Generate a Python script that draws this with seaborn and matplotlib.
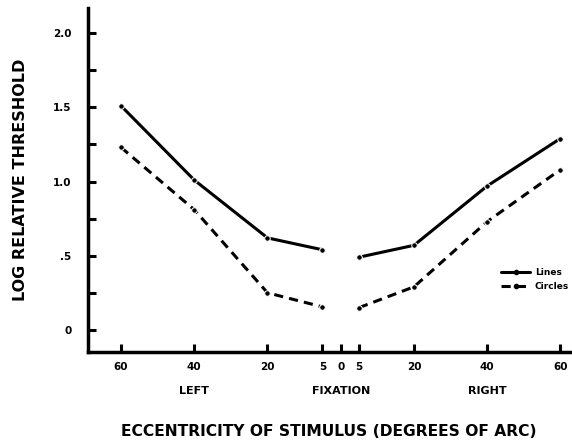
import pandas as pd
import matplotlib
matplotlib.use("Agg")
import matplotlib.pyplot as plt
import matplotlib.transforms as mtransforms
from matplotlib.lines import Line2D
import seaborn as sns

# eccentricity in degrees, left field negative
ECC = [-60, -40, -20, -5, 5, 20, 40, 60]
SIDE = ["left", "left", "left", "left", "right", "right", "right", "right"]
LINES = [1.51, 1.01, 0.62, 0.54, 0.49, 0.57, 0.97, 1.29]
CIRCLES = [1.23, 0.81, 0.25, 0.155, 0.15, 0.29, 0.73, 1.08]

X_TICKS = [-60, -40, -20, -5, 0, 5, 20, 40, 60]
X_TICKLABELS = ["60", "40", "20", "5", "0", "5", "20", "40", "60"]
Y_TICKS = [0, 0.25, 0.5, 0.75, 1.0, 1.25, 1.5, 1.75, 2.0]
Y_TICKLABELS = ["0", "", ".5", "", "1.0", "", "1.5", "", "2.0"]


def build_df():
    rows = []
    for name, vals in [("Lines", LINES), ("Circles", CIRCLES)]:
        for e, s, v in zip(ECC, SIDE, vals):
            rows.append({"ecc": e, "side": s, "threshold": v, "stimulus": name})
    return pd.DataFrame(rows)


def main():
    sns.set_style("ticks")
    plt.rcParams["font.family"] = ["DejaVu Sans"]
    plt.rcParams["font.weight"] = "bold"
    for key in ["text.color", "axes.labelcolor", "xtick.color", "ytick.color",
                "axes.edgecolor"]:
        plt.rcParams[key] = "black"

    df = build_df()

    fig = plt.figure(figsize=(5.72, 4.42), dpi=100)
    ax = fig.add_axes([0.154, 0.204, 0.843, 0.778])

    sns.lineplot(data=df, x="ecc", y="threshold", style="stimulus",
                 units="side", estimator=None, color="black",
                 dashes={"Lines": "", "Circles": (3, 2)},
                 markers={"Lines": "o", "Circles": "o"},
                 markersize=4, linewidth=2.2, legend=False, ax=ax)

    ax.set_xlim(-69, 62.7)
    ax.set_ylim(-0.148, 2.17)
    ax.set_xticks(X_TICKS)
    ax.set_xticklabels(X_TICKLABELS, fontsize=7.5, fontweight="heavy")
    ax.set_yticks(Y_TICKS)
    ax.set_yticklabels(Y_TICKLABELS, fontsize=7.5, fontweight="heavy")
    ax.tick_params(direction="in", length=6, width=2.2, pad=7)
    ax.tick_params(axis="y", pad=12)

    sns.despine(ax=ax)
    for sp in ["left", "bottom"]:
        ax.spines[sp].set_linewidth(2.5)

    ax.set_xlabel("ECCENTRICITY OF STIMULUS (DEGREES OF ARC)", fontsize=11.2,
                  fontweight="heavy", labelpad=38)
    ax.set_ylabel("LOG RELATIVE THRESHOLD", fontsize=11.5, fontweight="heavy",
                  labelpad=18)

    trans = mtransforms.blended_transform_factory(ax.transData, ax.transAxes)
    for x, lab in [(-40, "LEFT"), (0, "FIXATION"), (40, "RIGHT")]:
        ax.text(x, -0.115, lab, transform=trans, ha="center", va="center",
                fontsize=8, fontweight="heavy")

    handles = [
        Line2D([], [], color="black", linewidth=2.2, marker="o", markersize=3),
        Line2D([], [], color="black", linewidth=2.2, linestyle=(0, (3, 2)),
               marker="o", markersize=3),
    ]
    ax.legend(handles, ["Lines", "Circles"], loc="center left",
              bbox_to_anchor=(0.84, 0.21), frameon=False,
              handlelength=3.2, handletextpad=0.5, labelspacing=0.6,
              prop={"weight": "bold", "size": 6.5})

    plt.savefig("out.png", dpi=100)


if __name__ == "__main__":
    main()
